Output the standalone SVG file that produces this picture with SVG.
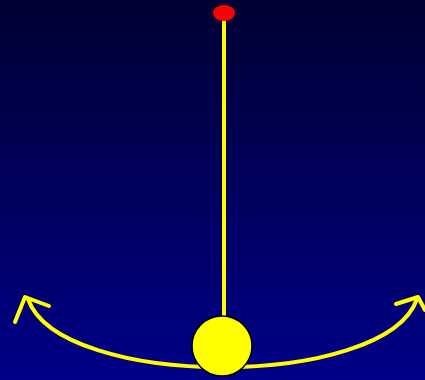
<svg xmlns="http://www.w3.org/2000/svg" width="425" height="380" viewBox="0 0 425 380">
<defs>
<linearGradient id="bg" x1="0" y1="0" x2="0" y2="1">
<stop offset="0" stop-color="#000033"/>
<stop offset="1" stop-color="#000088"/>
</linearGradient>
<style>
.y{stroke:#ffff00;stroke-width:4;fill:none;stroke-linecap:round;stroke-linejoin:round}
</style>
</defs>
<rect width="425" height="380" fill="url(#bg)"/>
<g id="connectors">
<path class="y" d="M224,22 V316"/>
<path class="y" d="M28,299 C60,390 385,390 417,299"/>
<path class="y" d="M15,322 L25,297 L49,306"/>
<path class="y" d="M396,304 L418,297 L425,310"/>
</g>
<g id="pivot"><ellipse cx="224" cy="13" rx="11" ry="8" fill="#ff0000"/></g>
<g id="bob"><circle cx="222" cy="346" r="30" fill="#ffff00" stroke="#000000" stroke-width="1.5"/></g>
</svg>
